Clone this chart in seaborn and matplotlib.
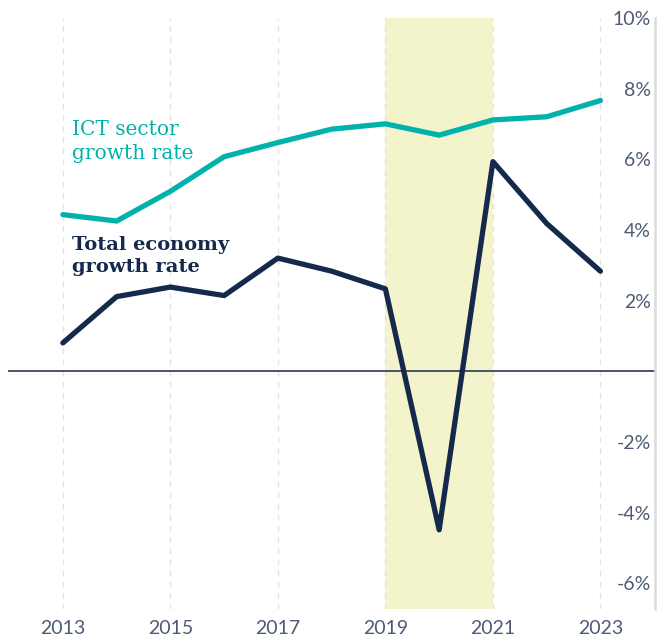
import matplotlib
matplotlib.use("Agg")
import matplotlib.pyplot as plt
import pandas as pd
import seaborn as sns

sns.set_style("white")
plt.rcParams['font.family'] = ['Lato', 'DejaVu Sans']

# data
years = [2013, 2014, 2015, 2016, 2017, 2018, 2019, 2020, 2021, 2022, 2023]
ict_growth = [4.43, 4.25, 5.09, 6.07, 6.47, 6.85, 7.00, 6.68, 7.11, 7.20, 7.66]
total_growth = [0.80, 2.11, 2.38, 2.14, 3.20, 2.83, 2.33, -4.49, 5.93, 4.18, 2.83]
shade_span = (2019, 2021)
xtick_years = [2013, 2015, 2017, 2019, 2021, 2023]
ytick_values = [-6, -4, -2, 2, 4, 6, 8, 10]

teal = '#00b2a9'
navy = '#14294b'
tick_col = '#4d5b74'

df = pd.DataFrame({
    'Year': years * 2,
    'Growth': ict_growth + total_growth,
    'Series': ['ICT'] * len(years) + ['Total'] * len(years),
})

fig = plt.figure(figsize=(6.7, 6.37), dpi=100)
ax = fig.add_axes([0.012, 0.044, 0.966, 0.928])

# highlighted period
ax.axvspan(*shade_span, color='#f3f4cc', lw=0, zorder=0)

# dashed vertical grid on odd years
for yr in xtick_years:
    ax.axvline(yr, color='#e3e3e3', lw=1, ls=(0, (4, 4)), zorder=0.5)

ax.axhline(0, color='#2b3a52', lw=1.2, zorder=1)

sns.lineplot(data=df, x='Year', y='Growth', hue='Series',
             palette={'ICT': teal, 'Total': navy}, linewidth=3.8,
             legend=False, ax=ax, zorder=3)
for line in ax.lines[-2:]:
    line.set_solid_capstyle('round')

ax.set_xlim(2011.98, 2024.02)
ax.set_ylim(-6.73, 10)

ax.set_xticks(xtick_years)
ax.set_xticklabels([str(y) for y in xtick_years])
ax.set_yticks(ytick_values)
ax.set_yticklabels([f'{v}%' for v in ytick_values])

ax.tick_params(axis='x', length=0, pad=8, labelsize=14, labelcolor=tick_col)
ax.tick_params(axis='y', length=0, left=False, labelleft=False,
               right=True, labelright=True, pad=-3, labelsize=14,
               labelcolor=tick_col)
for lbl in ax.get_yticklabels():
    lbl.set_horizontalalignment('right')

for side in ['top', 'left', 'bottom']:
    ax.spines[side].set_visible(False)
ax.spines['right'].set_color('#dcdcdc')
ax.spines['right'].set_linewidth(1.8)

ax.set_xlabel('')
ax.set_ylabel('')

# direct series labels
ax.text(2013.17, 7.1, 'ICT sector\ngrowth rate', color=teal, fontsize=14.5,
        family='DejaVu Serif', va='top', ha='left', linespacing=1.3)
ax.text(2013.17, 3.82, 'Total economy\ngrowth rate', color=navy, fontsize=14,
        family='DejaVu Serif', fontweight='bold', va='top', ha='left',
        linespacing=1.3)

fig.savefig('out.png', dpi=100)
